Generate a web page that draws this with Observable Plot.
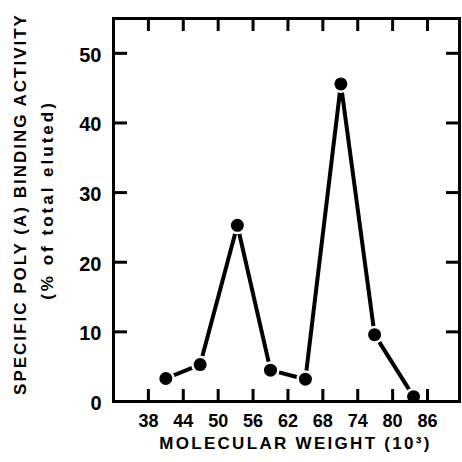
<!DOCTYPE html>
<html><head><meta charset="utf-8">
<script src="https://cdn.jsdelivr.net/npm/d3@7"></script>
<script src="https://cdn.jsdelivr.net/npm/@observablehq/plot@0.6"></script>
<style>html,body{margin:0;padding:0;background:#fff}</style>
</head><body><div id="chart"></div>
<script>
const molecularWeight = [41.0, 46.9, 53.3, 59.0, 65.0, 71.1, 76.9, 83.6];
const bindingActivity = [3.3, 5.3, 25.3, 4.5, 3.2, 45.6, 9.6, 0.7];
const xTicks = [38, 44, 50, 56, 62, 68, 74, 80, 86];
const yTicks = [0, 10, 20, 30, 40, 50];
const xTitle = "MOLECULAR WEIGHT (10³)";
const yTitle1 = "SPECIFIC POLY (A) BINDING ACTIVITY";
const yTitle2 = "(% of total eluted)";

const data = molecularWeight.map((x, i) => ({x, y: bindingActivity[i]}));

const chart = Plot.plot({
  width: 462,
  height: 462,
  marginLeft: 113,
  marginRight: 3,
  marginTop: 18,
  marginBottom: 61,
  style: {fontFamily: "'Liberation Sans', Arial, sans-serif", fontWeight: "bold", color: "#000", background: "#fff"},
  x: {domain: [32, 91.5]},
  y: {domain: [0, 55]},
  marks: [
    Plot.line(data, {x: "x", y: "y", stroke: "#000", strokeWidth: 4}),
    Plot.dot(data, {x: "x", y: "y", r: 9, fill: "#fff", stroke: "none"}),
    Plot.dot(data, {x: "x", y: "y", r: 6.5, fill: "#000", stroke: "none"}),
    Plot.frame({stroke: "#000", strokeWidth: 3}),
    Plot.axisX({anchor: "bottom", ticks: xTicks, tickSize: -12, tickFormat: () => "", strokeWidth: 3, label: null}),
    Plot.axisX({anchor: "top", ticks: xTicks, tickSize: -12, tickFormat: () => "", strokeWidth: 3, label: null}),
    Plot.axisY({anchor: "left", ticks: yTicks, tickSize: -14, tickFormat: () => "", strokeWidth: 3, label: null}),
    Plot.axisY({anchor: "right", ticks: yTicks, tickSize: -14, tickFormat: () => "", strokeWidth: 3, label: null}),
    Plot.axisX({anchor: "bottom", ticks: xTicks, tickSize: 0, tickPadding: 13, fontSize: 18, fontWeight: "bold", label: null}),
    Plot.axisY({anchor: "left", ticks: yTicks, tickSize: 0, tickPadding: 12, dy: 2, fontSize: 20, fontWeight: "bold", label: null}),
    Plot.text([xTitle], {frameAnchor: "bottom", textAnchor: "middle", dx: 9, dy: 42, fontSize: 17, fontWeight: "bold", lineAnchor: "middle"}),
    Plot.text([yTitle1], {frameAnchor: "left", textAnchor: "middle", rotate: -90, dx: -93, dy: -6, fontSize: 17, fontWeight: "bold", lineAnchor: "middle"}),
    Plot.text([yTitle2], {frameAnchor: "left", textAnchor: "middle", rotate: -90, dx: -66, dy: -10, fontSize: 17, fontWeight: "bold", lineAnchor: "middle"})
  ]
});
document.getElementById("chart").appendChild(chart);
const spacing = new Map([[xTitle, "2.3px"], [yTitle1, "2px"], [yTitle2, "3px"]]);
d3.select(chart).selectAll("text").each(function () {
  const s = spacing.get(this.textContent);
  if (s) this.style.letterSpacing = s;
});
</script>
</body></html>
